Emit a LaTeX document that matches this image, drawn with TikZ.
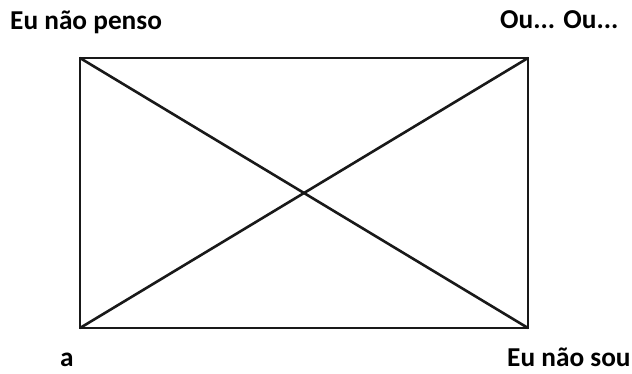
\documentclass[tikz,border=0pt]{standalone}
\usepackage{fontspec}
\setmainfont{Carlito}
\begin{document}
\begin{tikzpicture}[x=1pt,y=-1pt,
  lbl/.style={anchor=base west,inner sep=0pt,font=\fontsize{27.3}{30}\selectfont\bfseries},
  edge/.style={line width=2.6pt,black!90}]
\useasboundingbox (0,0) rectangle (632,373);
\coordinate (tl) at (80,58);
\coordinate (tr) at (528,58);
\coordinate (bl) at (80,328);
\coordinate (br) at (528,328);
\draw[edge,line join=miter] (tl) -- (tr) -- (br) -- (bl) -- cycle;
\draw[edge] (tl) -- (br);
\draw[edge] (bl) -- (tr);
\node[lbl] (t1) at (10,29) {Eu não penso};
\node[lbl] (t2) at (500,28) {Ou... Ou...};
\node[lbl,text depth=0pt] (t3) at (60,366) {a};
\node[lbl,text depth=0pt] (t4) at (507,366) {Eu não sou};
\end{tikzpicture}
\end{document}
